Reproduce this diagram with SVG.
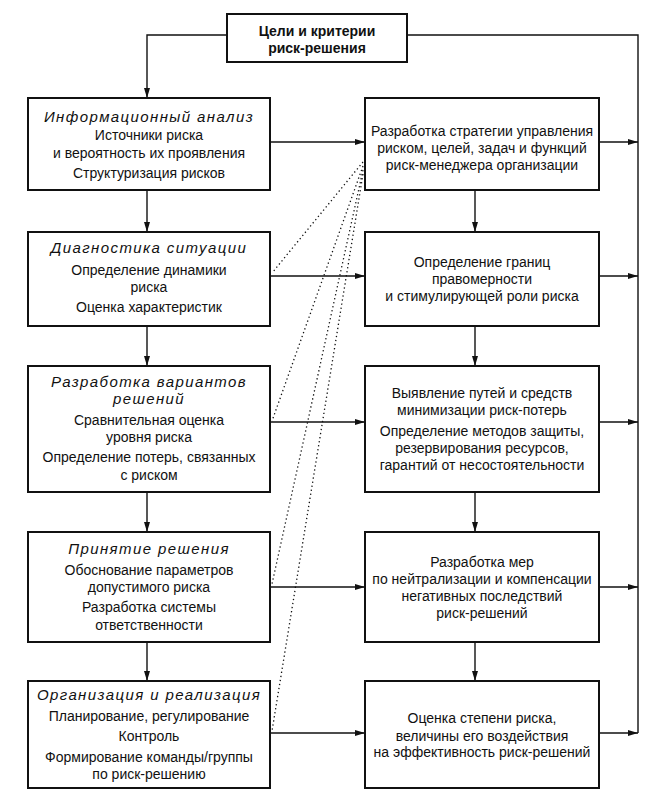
<svg xmlns="http://www.w3.org/2000/svg" width="661" height="801" viewBox="0 0 661 801">
<style>
.box{fill:#fff;stroke:#111;stroke-width:2}
.t{font-family:"Liberation Sans",Arial,sans-serif;font-size:14px;fill:#111;text-anchor:middle}
.h{font-family:"Liberation Sans",Arial,sans-serif;font-size:15px;font-style:italic;letter-spacing:1.4px;fill:#111;text-anchor:middle}
.b{font-family:"Liberation Sans",Arial,sans-serif;font-size:14px;font-weight:bold;fill:#111;text-anchor:middle}
.c{fill:none;stroke:#111;stroke-width:1.4}
.d{fill:none;stroke:#111;stroke-width:1.3;stroke-dasharray:1.3 2.8}
</style>
<defs>
<marker id="ah" markerUnits="userSpaceOnUse" viewBox="0 0 10 6" refX="10" refY="3" markerWidth="10" markerHeight="6" orient="auto">
<path d="M0,0 L10,3 L0,6 z" fill="#111"/>
</marker>
</defs>
<rect width="661" height="801" fill="#fff"/>

<g id="connectors">
<polyline class="c" points="227,35 147,35 147,98" marker-end="url(#ah)"/>
<polyline class="c" points="407,35 638,35 638,733"/>
<line class="c" x1="147" y1="190" x2="147" y2="232" marker-end="url(#ah)"/>
<line class="c" x1="147" y1="326" x2="147" y2="366" marker-end="url(#ah)"/>
<line class="c" x1="147" y1="492" x2="147" y2="532" marker-end="url(#ah)"/>
<line class="c" x1="147" y1="642" x2="147" y2="681" marker-end="url(#ah)"/>
<line class="c" x1="475" y1="190" x2="475" y2="232" marker-end="url(#ah)"/>
<line class="c" x1="475" y1="326" x2="475" y2="366" marker-end="url(#ah)"/>
<line class="c" x1="475" y1="492" x2="475" y2="532" marker-end="url(#ah)"/>
<line class="c" x1="475" y1="642" x2="475" y2="681" marker-end="url(#ah)"/>
<line class="c" x1="270" y1="142" x2="365" y2="142" marker-end="url(#ah)"/>
<line class="c" x1="270" y1="276" x2="365" y2="276" marker-end="url(#ah)"/>
<line class="c" x1="270" y1="422" x2="365" y2="422" marker-end="url(#ah)"/>
<line class="c" x1="270" y1="587" x2="365" y2="587" marker-end="url(#ah)"/>
<line class="c" x1="270" y1="733" x2="365" y2="733" marker-end="url(#ah)"/>
<line class="c" x1="599" y1="142" x2="638" y2="142" marker-end="url(#ah)"/>
<line class="c" x1="599" y1="276" x2="638" y2="276" marker-end="url(#ah)"/>
<line class="c" x1="599" y1="422" x2="638" y2="422" marker-end="url(#ah)"/>
<line class="c" x1="599" y1="587" x2="638" y2="587" marker-end="url(#ah)"/>
<line class="c" x1="599" y1="733" x2="638" y2="733" marker-end="url(#ah)"/>
<line class="d" x1="363" y1="162" x2="272" y2="273"/>
<line class="d" x1="363" y1="166" x2="272" y2="421"/>
<line class="d" x1="363" y1="170" x2="272" y2="584"/>
<line class="d" x1="363" y1="174" x2="272" y2="731"/>
</g>

<g id="goals">
<rect class="box" x="227" y="14" width="180" height="48"/>
<text class="b" x="317" y="36">Цели и критерии</text>
<text class="b" x="317" y="53">риск-решения</text>
</g>

<g id="info-analysis">
<rect class="box" x="28" y="98" width="242" height="92"/>
<text class="h" x="149" y="122">Информационный анализ</text>
<text class="t" x="149" y="140">Источники риска</text>
<text class="t" x="149" y="158">и вероятность их проявления</text>
<text class="t" x="149" y="178">Структуризация рисков</text>
</g>

<g id="diagnostics">
<rect class="box" x="28" y="232" width="242" height="94"/>
<text class="h" x="149" y="253">Диагностика ситуации</text>
<text class="t" x="149" y="275">Определение динамики</text>
<text class="t" x="149" y="292">риска</text>
<text class="t" x="149" y="312">Оценка характеристик</text>
</g>

<g id="variants">
<rect class="box" x="28" y="366" width="242" height="126"/>
<text class="h" x="149" y="387">Разработка вариантов</text>
<text class="h" x="149" y="404">решений</text>
<text class="t" x="149" y="425">Сравнительная оценка</text>
<text class="t" x="149" y="442">уровня риска</text>
<text class="t" x="149" y="462">Определение потерь, связанных</text>
<text class="t" x="149" y="480">с риском</text>
</g>

<g id="decision">
<rect class="box" x="28" y="532" width="242" height="110"/>
<text class="h" x="149" y="554">Принятие решения</text>
<text class="t" x="149" y="575">Обоснование параметров</text>
<text class="t" x="149" y="592">допустимого риска</text>
<text class="t" x="149" y="612">Разработка системы</text>
<text class="t" x="149" y="630">ответственности</text>
</g>

<g id="organization">
<rect class="box" x="28" y="681" width="242" height="107"/>
<text class="h" x="149" y="700">Организация и реализация</text>
<text class="t" x="149" y="721">Планирование, регулирование</text>
<text class="t" x="149" y="741">Контроль</text>
<text class="t" x="149" y="762">Формирование команды/группы</text>
<text class="t" x="149" y="779">по риск-решению</text>
</g>

<g id="strategy">
<rect class="box" x="365" y="98" width="234" height="92"/>
<text class="t" x="482" y="136">Разработка стратегии управления</text>
<text class="t" x="482" y="153">риском, целей, задач и функций</text>
<text class="t" x="482" y="170">риск-менеджера организации</text>
</g>

<g id="boundaries">
<rect class="box" x="365" y="232" width="234" height="94"/>
<text class="t" x="482" y="267">Определение границ</text>
<text class="t" x="482" y="284">правомерности</text>
<text class="t" x="482" y="301">и стимулирующей роли риска</text>
</g>

<g id="minimization">
<rect class="box" x="365" y="366" width="234" height="126"/>
<text class="t" x="482" y="398">Выявление путей и средств</text>
<text class="t" x="482" y="415">минимизации риск-потерь</text>
<text class="t" x="482" y="436">Определение методов защиты,</text>
<text class="t" x="482" y="453">резервирования ресурсов,</text>
<text class="t" x="482" y="470">гарантий от несостоятельности</text>
</g>

<g id="neutralization">
<rect class="box" x="365" y="532" width="234" height="110"/>
<text class="t" x="482" y="567">Разработка мер</text>
<text class="t" x="482" y="584">по нейтрализации и компенсации</text>
<text class="t" x="482" y="601">негативных последствий</text>
<text class="t" x="482" y="618">риск-решений</text>
</g>

<g id="assessment">
<rect class="box" x="365" y="681" width="234" height="107"/>
<text class="t" x="482" y="723">Оценка степени риска,</text>
<text class="t" x="482" y="741">величины его воздействия</text>
<text class="t" x="482" y="757">на эффективность риск-решений</text>
</g>
</svg>
